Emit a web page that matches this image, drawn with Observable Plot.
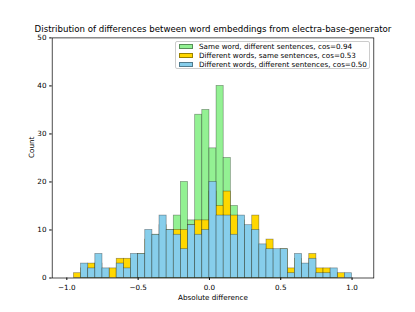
<!DOCTYPE html>
<html><head><meta charset="utf-8">
<script src="https://cdn.jsdelivr.net/npm/d3@7"></script>
<script src="https://cdn.jsdelivr.net/npm/@observablehq/plot@0.6"></script>
<style>
body{margin:0;background:#fff;}
#wrap{position:relative;width:415px;height:312px;font-family:"DejaVu Sans",sans-serif;color:#000;}
#legend{position:absolute;left:175px;top:40.5px;width:195px;height:28.5px;border:0.7px solid #cccccc;border-radius:2px;background:rgba(255,255,255,0.8);box-sizing:border-box;}
.row{position:absolute;left:2.5px;height:9px;font-size:7.2px;line-height:9px;white-space:nowrap;}
.sw{display:inline-block;width:14px;height:5px;vertical-align:middle;margin-right:6.5px;border:0.6px solid rgba(0,0,0,0.4);box-sizing:border-box;position:relative;top:-0.5px;}
</style></head>
<body><div id="wrap"></div>
<script>
// ---- data ----
const title = "Distribution of differences between word embeddings from electra-base-generator";
const xLabel = "Absolute difference";
const yLabel = "Count";
const binWidth = 0.05;
const binStart = [-0.95,-0.90,-0.85,-0.80,-0.75,-0.70,-0.65,-0.60,-0.55,-0.50,
  -0.45,-0.40,-0.35,-0.30,-0.25,-0.20,-0.15,-0.10,-0.05,0.00,
  0.05,0.10,0.15,0.20,0.25,0.30,0.35,0.40,0.45,0.50,
  0.55,0.60,0.65,0.70,0.75,0.80,0.85,0.90,0.95];
const sameWord = [0,0,0,0,0,0,0,0,0,0, 0,1,3,5,13,20,12,34,35,27, 40,25,15,8,5,3,2,1,0,0, 0,0,0,0,0,0,0,0,0];
const diffWordsSameSent = [1,2,3,3,1,2,4,4,4,5, 8,9,11,10,10,10,11,12,12,18, 15,18,13,12,10,13,6,8,5,6, 2,4,2,5,2,2,1,1,0];
const diffWordsDiffSent = [0,3,2,5,2,0,3,2,5,5, 10,9,13,10,9,6,11,9,10,20, 13,13,9,13,11,10,7,6,6,6, 1,5,3,4,1,1,2,0,1];
const seriesNames = ["Same word, different sentences, cos=0.94","Different words, same sentences, cos=0.53","Different words, different sentences, cos=0.50"];
const seriesColors = ["#93F193","#FFD700","#87CEEB"];
const xTicks = [-1.0,-0.5,0.0,0.5,1.0];
const yTicks = [0,10,20,30,40,50];

const seriesValues = [sameWord, diffWordsSameSent, diffWordsDiffSent];
const tables = seriesValues.map(vals => binStart.map((s,i) => ({x1: s, x2: s + binWidth, y: vals[i]})));

const barMarks = tables.map((t,j) => Plot.rectY(t, {x1:"x1", x2:"x2", y1:0, y2:"y", fill: seriesColors[j], stroke:"#000", strokeOpacity:0.4, strokeWidth:0.7, inset:0}));

const chart = Plot.plot({
  width: 415, height: 312,
  marginLeft: 51.7, marginRight: 41.7, marginTop: 37.4, marginBottom: 34.5,
  style: {fontFamily: '"DejaVu Sans", sans-serif', fontSize: "7.2px", color: "#000", background: "#fff"},
  x: {domain: [-1.1025, 1.1525]},
  y: {domain: [0, 50]},
  marks: [
    ...barMarks,
    Plot.axisX({ticks: xTicks, tickFormat: d3.format(".1f"), tickSize: 2.5, tickPadding: 4.5, label: null, fontSize: 7.2}),
    Plot.axisY({ticks: yTicks, tickFormat: d3.format("d"), tickSize: 2.5, tickPadding: 3.2, label: null, fontSize: 7.2}),
    Plot.frame({stroke: "#000", strokeWidth: 0.7}),
    Plot.text([title], {frameAnchor: "top", lineAnchor: "bottom", dy: -5.6, fontSize: 8.65}),
    Plot.text([xLabel], {frameAnchor: "bottom", lineAnchor: "middle", dy: 19.2, fontSize: 7.2}),
    Plot.text([yLabel], {frameAnchor: "left", rotate: -90, dx: -20.7, fontSize: 7.2})
  ]
});
const wrap = document.getElementById("wrap");
wrap.appendChild(chart);

const leg = document.createElement("div");
leg.id = "legend";
const rowTops = [0.5, 9.5, 18.7];
seriesNames.forEach((n,i) => {
  const r = document.createElement("div");
  r.className = "row";
  r.style.top = rowTops[i] + "px";
  const sw = document.createElement("span");
  sw.className = "sw";
  sw.style.background = seriesColors[i];
  r.appendChild(sw);
  r.appendChild(document.createTextNode(n));
  leg.appendChild(r);
});
wrap.appendChild(leg);
</script>
</body></html>
